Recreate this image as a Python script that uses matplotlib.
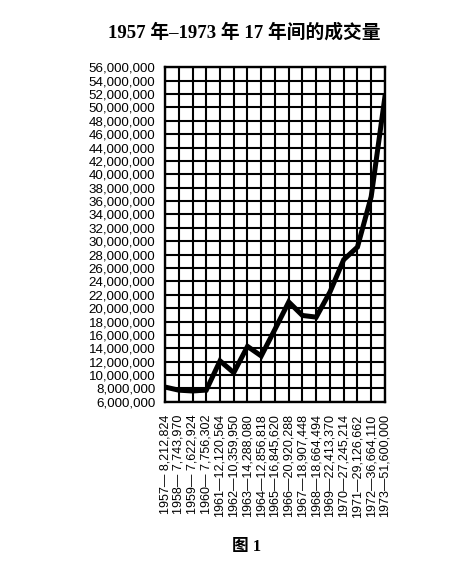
import matplotlib.pyplot as plt

# trading volume 1957-1973
years = [1957, 1958, 1959, 1960, 1961, 1962, 1963, 1964, 1965,
         1966, 1967, 1968, 1969, 1970, 1971, 1972, 1973]
volume = [8212824, 7743970, 7622924, 7756302, 12120564, 10359950,
          14288080, 12856818, 16845620, 20920288, 18907448, 18664494,
          22413370, 27245214, 29126662, 36664110, 51600000]
yticks = list(range(6000000, 56000001, 2000000))

fig = plt.figure(figsize=(4.61, 5.70), dpi=100)
ax = fig.add_axes([0.358, 0.295, 0.477, 0.587])

ax.plot(years, volume, color='black', lw=3.6, solid_joinstyle='miter')
ax.set_xlim(years[0], years[-1])
ax.set_ylim(yticks[0], yticks[-1])

ax.set_yticks(yticks)
ax.set_yticklabels([f'{v:,}' for v in yticks], family='Liberation Sans', fontsize=9.6)
ax.set_xticks(years)
xlabels = [f'{y}—{v:>10,}' for y, v in zip(years, volume)]
ax.set_xticklabels(xlabels, rotation=90, family='Liberation Sans', fontsize=9,
                   va='top', ha='center')

ax.grid(True, color='black', lw=1.5)
ax.tick_params(axis='y', length=0, pad=7)
ax.tick_params(axis='x', length=0, pad=9)
for s in ax.spines.values():
    s.set_linewidth(1.7)

fig.text(0.53, 0.944, '1957 年–1973 年 17 年间的成交量', ha='center', va='center',
         fontsize=13.5, fontweight='bold',
         family=['Liberation Serif', 'Noto Sans CJK SC'])
fig.text(0.535, 0.04, '图 1', ha='center', va='center', fontsize=12,
         fontweight='bold', family=['Liberation Serif', 'Noto Sans CJK SC'])

fig.savefig('out.png', dpi=100)
